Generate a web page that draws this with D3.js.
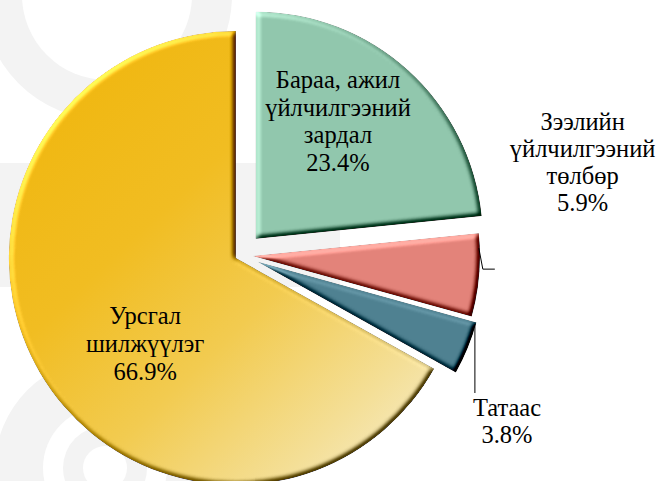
<!DOCTYPE html>
<html>
<head>
<meta charset="utf-8">
<script src="https://cdn.jsdelivr.net/npm/d3@7"></script>
</head>
<body style="margin:0">
<script>
// ---- data ----
const categories = ["Бараа, ажил үйлчилгээний зардал", "Зээлийн үйлчилгээний төлбөр", "Татаас", "Урсгал шилжүүлэг"];
const labelLines = [["Бараа, ажил", "үйлчилгээний", "зардал"], ["Зээлийн", "үйлчилгээний", "төлбөр"], ["Татаас"], ["Урсгал", "шилжүүлэг"]];
const values = [23.4, 5.9, 3.8, 66.9];

// ---- layout / style ----
const W = 661, H = 481;
const cx = 241, cy = 255, R = 227;
const explode = [22, 12, 18, 6];
const labelPolar = [{a: 36, r: 165}, {a: 74.8, r: 354}, {a: 122.1, r: 314}, {a: 227, r: 131}];
const lineH = [27.5, 27, 27, 28];
const fontSize = 24.5;

const svg = d3.select("body").append("svg").attr("width", W).attr("height", H).style("display", "block");
const defs = svg.append("defs");

const pie = d3.pie().sort(null).value(d => d).startAngle(0).endAngle(2 * Math.PI);
const arcs = pie(values);
const arc = d3.arc().innerRadius(0).outerRadius(R);
const offset = (d, i) => {
  const m = (d.startAngle + d.endAngle) / 2;
  return [cx + explode[i] * Math.sin(m), cy - explode[i] * Math.cos(m)];
};
const yo = offset(arcs[3], 3);

const yg = defs.append("linearGradient").attr("id", "yellowGrad")
  .attr("gradientUnits", "userSpaceOnUse")
  .attr("x1", 70 - yo[0]).attr("y1", 70 - yo[1]).attr("x2", 450 - yo[0]).attr("y2", 470 - yo[1]);
yg.append("stop").attr("offset", 0).attr("stop-color", "#f0b710");
yg.append("stop").attr("offset", 0.3).attr("stop-color", "#f1bd22");
yg.append("stop").attr("offset", 0.55).attr("stop-color", "#f2cb50");
yg.append("stop").attr("offset", 0.8).attr("stop-color", "#f4df97");
yg.append("stop").attr("offset", 1).attr("stop-color", "#f7f0d6");

const fills = ["#91c7ad", "#e3837a", "#4f8191", "url(#yellowGrad)"];

const f = defs.append("filter").attr("id", "bevel")
  .attr("x", "-5%").attr("y", "-5%").attr("width", "110%").attr("height", "110%")
  .attr("color-interpolation-filters", "sRGB");
f.append("feGaussianBlur").attr("in", "SourceAlpha").attr("stdDeviation", 2.5).attr("result", "b");
const dl = f.append("feDiffuseLighting").attr("in", "b").attr("surfaceScale", 4)
  .attr("diffuseConstant", 1).attr("lighting-color", "#ffffff").attr("result", "light");
dl.append("feDistantLight").attr("azimuth", 225).attr("elevation", 45);
f.append("feComposite").attr("in", "SourceGraphic").attr("in2", "light").attr("operator", "arithmetic")
  .attr("k1", 0).attr("k2", 1).attr("k3", 0.9).attr("k4", -0.636).attr("result", "lit");
f.append("feComposite").attr("in", "lit").attr("in2", "SourceAlpha").attr("operator", "in");

// ---- faint background watermark ----
const wm = svg.append("g").attr("fill", "#f3f3f3");
wm.append("rect").attr("x", 0).attr("y", 163).attr("width", 340).attr("height", 124);
wm.append("circle").attr("cx", 107).attr("cy", -5).attr("r", 125);
wm.append("circle").attr("cx", 107).attr("cy", -5).attr("r", 85).attr("fill", "#ffffff");
wm.append("circle").attr("cx", 105).attr("cy", 468).attr("r", 110);
wm.append("circle").attr("cx", 105).attr("cy", 468).attr("r", 62).attr("fill", "#ffffff");
wm.append("circle").attr("cx", 105).attr("cy", 468).attr("r", 42);
wm.append("circle").attr("cx", 105).attr("cy", 468).attr("r", 22).attr("fill", "#ffffff");

// ---- pie ----
const g = svg.append("g");
g.selectAll("path.slice").data(arcs).join("path")
  .attr("class", "slice")
  .attr("transform", (d, i) => { const o = offset(d, i); return `translate(${o[0]},${o[1]})`; })
  .attr("d", arc)
  .attr("fill", (d, i) => fills[i])
  .attr("filter", "url(#bevel)");

// ---- leader lines ----
const deg = Math.PI / 180;
const pointOn = (i, angleDeg, rad) => {
  const o = offset(arcs[i], i);
  return [o[0] + rad * Math.sin(angleDeg * deg), o[1] - rad * Math.cos(angleDeg * deg)];
};
const line = d3.line();
{
  const p = pointOn(1, 88, R - 1);
  svg.append("path").attr("d", line([p, [p[0] + 4, p[1] + 21], [p[0] + 16, p[1] + 21]]))
    .attr("fill", "none").attr("stroke", "#000").attr("stroke-width", 1);
}
{
  const p = pointOn(2, 106, R - 1);
  svg.append("path").attr("d", line([p, [p[0], 393]]))
    .attr("fill", "none").attr("stroke", "#000").attr("stroke-width", 1);
}

// ---- labels (one text element per line) ----
arcs.forEach((d, i) => {
  const lp = labelPolar[i];
  const x = cx + lp.r * Math.sin(lp.a * deg);
  const y = cy - lp.r * Math.cos(lp.a * deg);
  const lines = labelLines[i].concat([d3.format(".1f")(values[i]) + "%"]);
  const n = lines.length;
  lines.forEach((s, k) => {
    svg.append("text")
      .attr("x", x)
      .attr("y", y + (k - (n - 1) / 2) * lineH[i] + fontSize * 0.32)
      .attr("text-anchor", "middle")
      .style("font-family", '"Liberation Serif"')
      .style("font-size", fontSize + "px")
      .style("fill", "#000")
      .text(s);
  });
});
</script>
</body>
</html>
